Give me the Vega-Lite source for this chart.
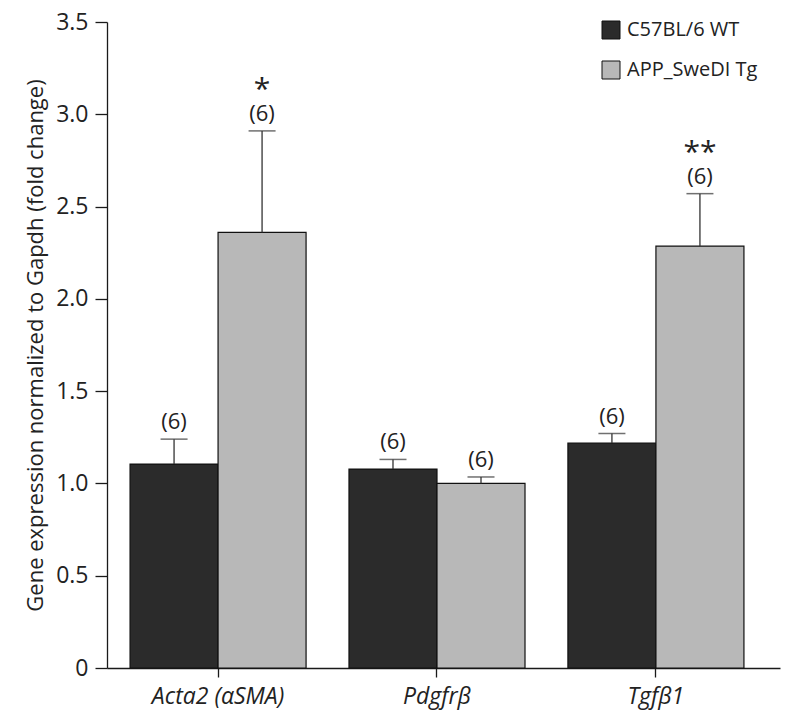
{
  "$schema": "https://vega.github.io/schema/vega-lite/v6.json",
  "autosize": {"type": "none"},
  "padding": {"left": 107, "top": 22, "right": 20, "bottom": 53},
  "width": 673,
  "height": 646,
  "background": "white",
  "config": {
    "font": "Open Sans",
    "view": {"stroke": null},
    "axis": {"domainColor": "#1a1a1a", "tickColor": "#1a1a1a", "labelColor": "#222", "titleColor": "#222", "grid": false, "domainWidth": 1.3, "tickWidth": 1.3}
  },
  "data": {
    "values": [
      {"gene": "Acta2 (αSMA)", "group": "C57BL/6 WT", "value": 1.105, "upper": 1.24, "n": "(6)", "sig": ""},
      {"gene": "Acta2 (αSMA)", "group": "APP_SweDI Tg", "value": 2.36, "upper": 2.91, "n": "(6)", "sig": "*"},
      {"gene": "Pdgfrβ", "group": "C57BL/6 WT", "value": 1.078, "upper": 1.13, "n": "(6)", "sig": ""},
      {"gene": "Pdgfrβ", "group": "APP_SweDI Tg", "value": 1.0, "upper": 1.035, "n": "(6)", "sig": ""},
      {"gene": "Tgfβ1", "group": "C57BL/6 WT", "value": 1.219, "upper": 1.27, "n": "(6)", "sig": ""},
      {"gene": "Tgfβ1", "group": "APP_SweDI Tg", "value": 2.286, "upper": 2.57, "n": "(6)", "sig": "**"}
    ]
  },
  "encoding": {
    "x": {
      "field": "gene", "type": "nominal", "sort": null,
      "scale": {"paddingInner": 0.196, "paddingOuter": 0.135, "align": 0.39},
      "axis": {"title": null, "labelAngle": 0, "labelFontSize": 23, "labelFontStyle": "italic", "tickSize": 9, "labelPadding": 8}
    },
    "xOffset": {"field": "group", "type": "nominal", "sort": ["C57BL/6 WT", "APP_SweDI Tg"], "scale": {"paddingInner": 0, "paddingOuter": 0}}
  },
  "layer": [
    {
      "mark": {"type": "bar", "stroke": "#111", "strokeWidth": 1.2},
      "encoding": {
        "y": {
          "field": "value", "type": "quantitative",
          "scale": {"domain": [0, 3.5], "nice": false, "zero": true},
          "axis": {
            "title": "Gene expression normalized to Gapdh (fold change)",
            "titleFontSize": 22, "titleFontWeight": "normal", "titlePadding": 8,
            "values": [0, 0.5, 1, 1.5, 2, 2.5, 3, 3.5],
            "labelExpr": "datum.value == 0 ? '0' : format(datum.value, '.1f')",
            "labelFontSize": 23, "tickSize": 12, "labelPadding": 7
          }
        },
        "color": {
          "field": "group", "type": "nominal",
          "sort": ["C57BL/6 WT", "APP_SweDI Tg"],
          "scale": {"domain": ["C57BL/6 WT", "APP_SweDI Tg"], "range": ["#2b2b2b", "#b8b8b8"]},
          "legend": {
            "title": null, "orient": "none", "legendX": 494, "legendY": -2,
            "symbolType": "square", "symbolSize": 324, "symbolStrokeColor": "#111", "symbolStrokeWidth": 1,
            "labelFontSize": 20, "labelColor": "#222", "rowPadding": 18, "symbolOffset": 0, "labelOffset": 6, "labelLimit": 300
          }
        }
      }
    },
    {
      "mark": {"type": "rule", "color": "#333", "strokeWidth": 1.3},
      "encoding": {
        "y": {"field": "value", "type": "quantitative"},
        "y2": {"field": "upper"}
      }
    },
    {
      "mark": {"type": "tick", "color": "#333", "thickness": 1.5, "size": 27},
      "encoding": {
        "y": {"field": "upper", "type": "quantitative"}
      }
    },
    {
      "mark": {"type": "text", "fontSize": 22, "color": "#222", "baseline": "middle", "dy": -17},
      "encoding": {
        "y": {"field": "upper", "type": "quantitative"},
        "text": {"field": "n"}
      }
    },
    {
      "mark": {"type": "text", "fontSize": 30, "color": "#222", "baseline": "middle", "dy": -41},
      "encoding": {
        "y": {"field": "upper", "type": "quantitative"},
        "text": {"field": "sig"}
      }
    }
  ]
}
